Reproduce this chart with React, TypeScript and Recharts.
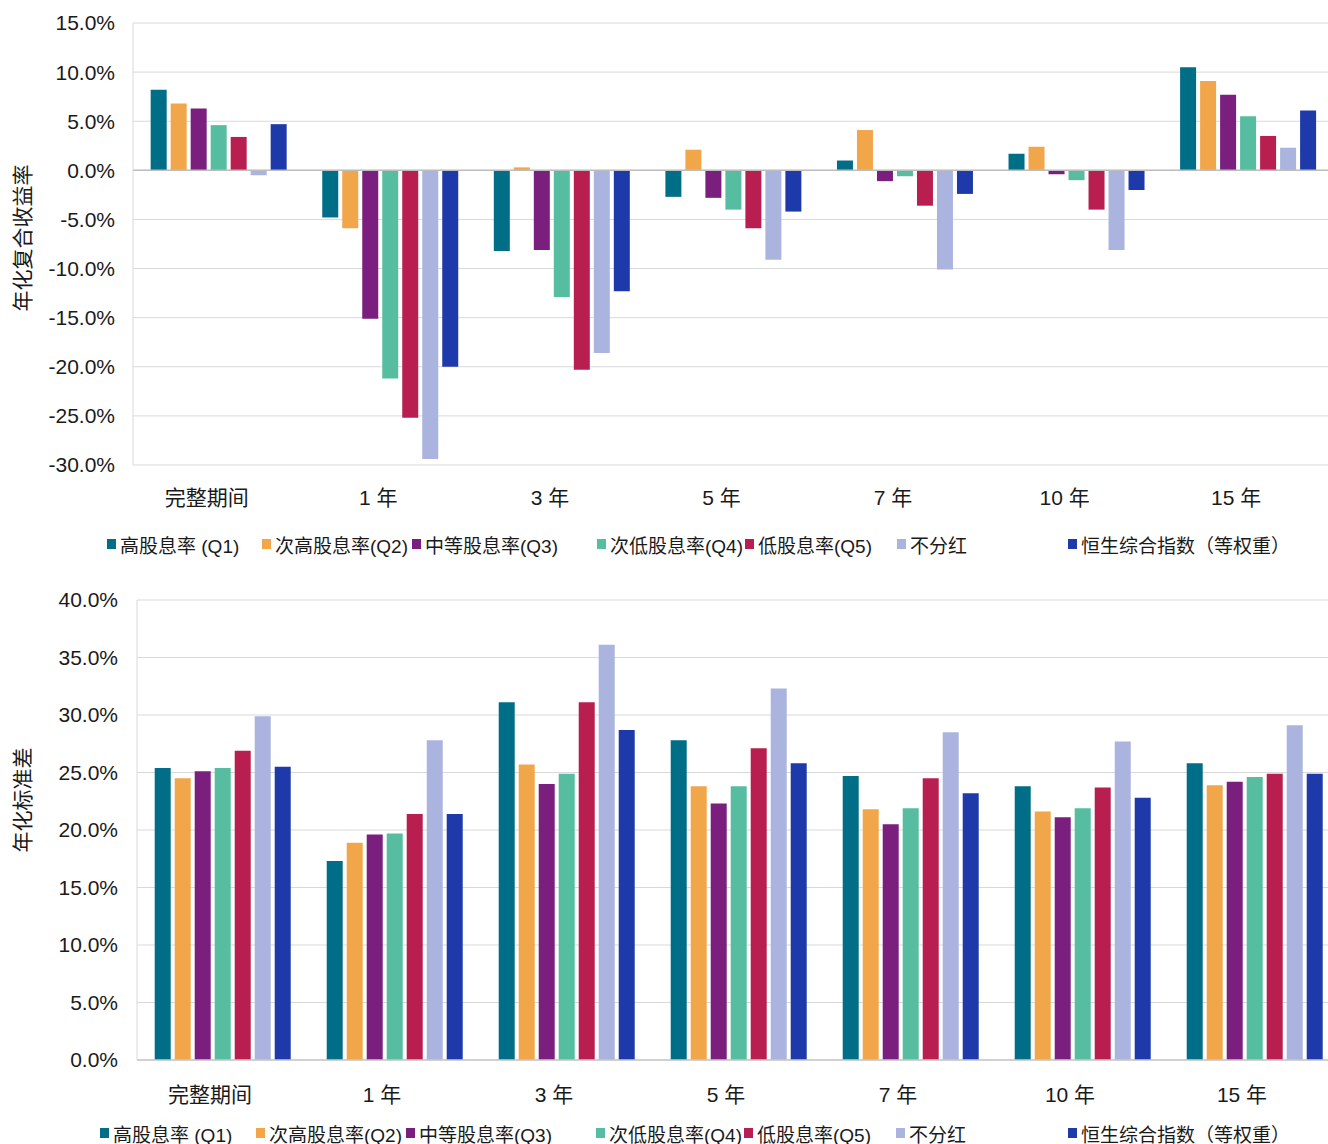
import React from 'react';
import { BarChart, Bar, XAxis, YAxis, CartesianGrid, ReferenceLine, Legend, Label } from 'recharts';

const categories = ['完整期间', '1 年', '3 年', '5 年', '7 年', '10 年', '15 年'];
const seriesNames = ['高股息率 (Q1)', '次高股息率(Q2)', '中等股息率(Q3)', '次低股息率(Q4)', '低股息率(Q5)', '不分红', '恒生综合指数（等权重）'];
const seriesColors = ['#006E87', '#F2A64A', '#7A1F7E', '#56BDA0', '#B81F50', '#AAB4DE', '#1E3AAA'];

// 年化复合收益率 (%)
const retQ1 = [8.2, -4.8, -8.2, -2.7, 1.0, 1.7, 10.5];
const retQ2 = [6.8, -5.9, 0.3, 2.1, 4.1, 2.4, 9.1];
const retQ3 = [6.3, -15.1, -8.1, -2.8, -1.1, -0.4, 7.7];
const retQ4 = [4.6, -21.2, -12.9, -4.0, -0.6, -1.0, 5.5];
const retQ5 = [3.4, -25.2, -20.3, -5.9, -3.6, -4.0, 3.5];
const retNoDiv = [-0.5, -29.4, -18.6, -9.1, -10.1, -8.1, 2.3];
const retHSCI = [4.7, -20.0, -12.3, -4.2, -2.4, -2.0, 6.1];

// 年化标准差 (%)
const sdQ1 = [25.4, 17.3, 31.1, 27.8, 24.7, 23.8, 25.8];
const sdQ2 = [24.5, 18.9, 25.7, 23.8, 21.8, 21.6, 23.9];
const sdQ3 = [25.1, 19.6, 24.0, 22.3, 20.5, 21.1, 24.2];
const sdQ4 = [25.4, 19.7, 24.9, 23.8, 21.9, 21.9, 24.6];
const sdQ5 = [26.9, 21.4, 31.1, 27.1, 24.5, 23.7, 24.9];
const sdNoDiv = [29.9, 27.8, 36.1, 32.3, 28.5, 27.7, 29.1];
const sdHSCI = [25.5, 21.4, 28.7, 25.8, 23.2, 22.8, 24.9];

const retTicks = [-30, -25, -20, -15, -10, -5, 0, 5, 10, 15];
const sdTicks = [0, 5, 10, 15, 20, 25, 30, 35, 40];

const retSeries = [retQ1, retQ2, retQ3, retQ4, retQ5, retNoDiv, retHSCI];
const sdSeries = [sdQ1, sdQ2, sdQ3, sdQ4, sdQ5, sdNoDiv, sdHSCI];

const buildRows = (series: number[][]) =>
  categories.map((c, ci) => {
    const row: any = { name: c };
    series.forEach((s, si) => { row['s' + si] = s[ci]; });
    return row;
  });

const retData = buildRows(retSeries);
const sdData = buildRows(sdSeries);

const legendOffsetsTop = [107, 262, 412, 597, 745, 897, 1068];
const legendOffsetsBottom = [100, 256, 406, 596, 744, 896, 1068];

const FONT = "'Liberation Sans', Arial, 'Noto Sans CJK SC', sans-serif";
const TEXT = '#1a1a1a';

const makeLegend = (offsets: number[]) => () => (
  <div style={{ position: 'relative', width: 1328, height: 26, fontFamily: FONT }}>
    {seriesNames.map((n, i) => (
      <div key={i} style={{ position: 'absolute', left: offsets[i], top: 0, height: 26, display: 'flex', alignItems: 'center', whiteSpace: 'nowrap' }}>
        <span style={{ display: 'inline-block', width: 9, height: 10, background: seriesColors[i], marginRight: 4 }} />
        <span style={{ fontSize: 19, color: TEXT }}>{n}</span>
      </div>
    ))}
  </div>
);

const makeYLabel = (text: string, dyc: number) => (props: any) => {
  const vb = props.viewBox || {};
  const cx = (vb.x || 0) + 22;
  const cy = (vb.y || 0) + (vb.height || 0) / 2 + dyc;
  return (
    <text x={cx} y={cy} transform={`rotate(-90, ${cx}, ${cy})`} textAnchor="middle" dominantBaseline="central" fontSize={21} fill={TEXT} fontFamily={FONT}>
      {text}
    </text>
  );
};

const fmt = (v: number) => v.toFixed(1) + '%';

export default function App() {
  return (
    <div style={{ position: 'absolute', left: 0, top: 0, width: 1328, height: 1144, background: '#fff', fontFamily: FONT, overflow: 'hidden' }}>
      <div style={{ position: 'absolute', left: 0, top: 0 }}>
        <BarChart width={1328} height={570} data={retData} margin={{ top: 23, right: -6, bottom: 65, left: 0 }} barGap={4} barCategoryGap="10.3%">
          <CartesianGrid vertical={false} stroke="#d9d9d9" />
          <XAxis dataKey="name" axisLine={false} tickLine={false} tickSize={0} tickMargin={25} height={40} dx={-12}
            tick={{ fontSize: 21, fill: TEXT, fontFamily: FONT }} interval={0} />
          <YAxis width={133} domain={[-30, 15]} ticks={retTicks} tickFormatter={fmt} tickLine={false} tickSize={0} tickMargin={18}
            axisLine={{ stroke: '#d9d9d9' }} tick={{ fontSize: 21, fill: TEXT, fontFamily: FONT }} interval={0}>
            <Label content={makeYLabel('年化复合收益率', -6)} />
          </YAxis>
          <ReferenceLine y={0} stroke="#bdbdbd" strokeWidth={1.5} />
          {seriesNames.map((n, i) => (
            <Bar key={i} dataKey={'s' + i} name={n} fill={seriesColors[i]} isAnimationActive={false} />
          ))}
          <Legend layout="horizontal" verticalAlign="middle" content={makeLegend(legendOffsetsTop)}
            wrapperStyle={{ top: 531, left: 0, width: 1328, height: 26 }} />
        </BarChart>
      </div>
      <div style={{ position: 'absolute', left: 0, top: 570 }}>
        <BarChart width={1328} height={574} data={sdData} margin={{ top: 30, right: -13, bottom: 44, left: 0 }} barGap={4} barCategoryGap="10.3%">
          <CartesianGrid vertical={false} stroke="#d9d9d9" />
          <XAxis dataKey="name" axisLine={{ stroke: '#c8c8c8', strokeWidth: 1.5 }} tickLine={false} tickSize={0} tickMargin={27} height={40} dx={-13}
            tick={{ fontSize: 21, fill: TEXT, fontFamily: FONT }} interval={0} />
          <YAxis width={137} domain={[0, 40]} ticks={sdTicks} tickFormatter={fmt} tickLine={false} tickSize={0} tickMargin={19}
            axisLine={{ stroke: '#d9d9d9' }} tick={{ fontSize: 21, fill: TEXT, fontFamily: FONT }} interval={0}>
            <Label content={makeYLabel('年化标准差', -30)} />
          </YAxis>
          {seriesNames.map((n, i) => (
            <Bar key={i} dataKey={'s' + i} name={n} fill={seriesColors[i]} isAnimationActive={false} />
          ))}
          <Legend layout="horizontal" verticalAlign="middle" content={makeLegend(legendOffsetsBottom)}
            wrapperStyle={{ top: 550, left: 0, width: 1328, height: 26 }} />
        </BarChart>
      </div>
    </div>
  );
}
